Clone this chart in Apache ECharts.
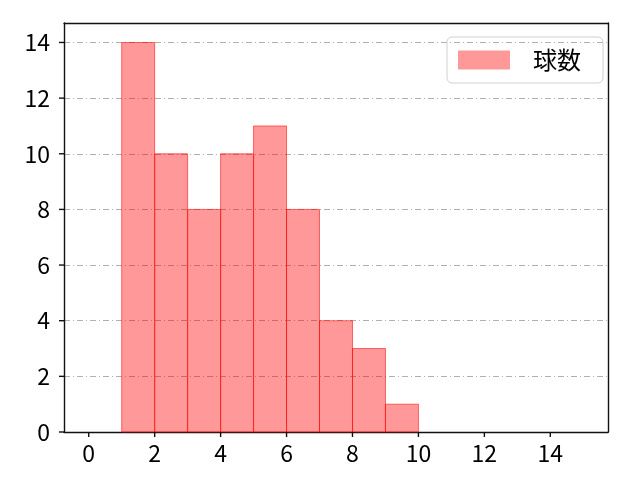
<!DOCTYPE html>
<html>
<head>
<meta charset="utf-8">
<script src="https://cdn.jsdelivr.net/npm/echarts@6/dist/echarts.min.js"></script>
<style>
  html, body { margin: 0; padding: 0; background: #fff; }
  #chart { width: 640px; height: 480px; }
</style>
</head>
<body>
<div id="chart"></div>
<script>
// histogram bins (left edge, right edge) and counts
const binStarts = [1, 2, 3, 4, 5, 6, 7, 8, 9];
const binEnds = [2, 3, 4, 5, 6, 7, 8, 9, 10];
const counts = [14, 10, 8, 10, 11, 8, 4, 3, 1];
const xTicks = [0, 2, 4, 6, 8, 10, 12, 14];
const yTicks = [0, 2, 4, 6, 8, 10, 12, 14];
const seriesName = "球数";

const FONT = "'Noto Sans CJK JP', 'DejaVu Sans', sans-serif";
const X_RANGE = [-0.75, 15.75];
const Y_RANGE = [0, 14.7];
const TICK_LEN = 5;

const chart = echarts.init(document.getElementById("chart"));

const data = binStarts.map((s, i) => [s, binEnds[i], counts[i]]);

const frameLine = { show: true, onZero: false, lineStyle: { color: "#111", width: 1.4 } };
const tickStyle = { stroke: "#111", lineWidth: 1.4 };

// extra axis with only its line, to close the frame on top / right
function frameAxis(pos, range) {
  return {
    type: "value", position: pos, min: range[0], max: range[1],
    axisLine: frameLine, axisTick: { show: false }, axisLabel: { show: false }, splitLine: { show: false }
  };
}

// outward tick marks, placed through the axis scales
function tickSeries(values, horizontal) {
  return {
    type: "custom",
    xAxisIndex: 0,
    yAxisIndex: 0,
    silent: true,
    clip: false,
    z: 5,
    encode: horizontal ? { x: 0 } : { y: 0 },
    renderItem: function (params, api) {
      const v = api.value(0);
      const p = horizontal ? api.coord([v, Y_RANGE[0]]) : api.coord([X_RANGE[0], v]);
      const shape = horizontal
        ? { x1: p[0], y1: p[1], x2: p[0], y2: p[1] + TICK_LEN }
        : { x1: p[0] - TICK_LEN, y1: p[1], x2: p[0], y2: p[1] };
      return { type: "line", shape: shape, style: tickStyle };
    },
    data: values.map((v) => [v])
  };
}

chart.setOption({
  animation: false,
  backgroundColor: "#fff",
  grid: { left: 64, right: 32, top: 23, bottom: 48 },
  legend: {
    right: 37,
    top: 37,
    itemWidth: 52,
    itemHeight: 19,
    padding: [10, 22, 10, 11],
    borderColor: "#d0d0d0",
    borderWidth: 1,
    borderRadius: 5,
    textStyle: { fontFamily: FONT, fontSize: 24, lineHeight: 26, color: "#000", padding: [0, 0, 0, 18] },
    data: [{ name: seriesName, icon: "rect" }]
  },
  xAxis: [{
    type: "value",
    min: X_RANGE[0],
    max: X_RANGE[1],
    axisLine: frameLine,
    axisTick: { show: false },
    axisLabel: { customValues: xTicks, fontFamily: FONT, fontSize: 23, color: "#000", margin: 10 },
    splitLine: { show: false }
  }, frameAxis("top", X_RANGE)],
  yAxis: [{
    type: "value",
    min: Y_RANGE[0],
    max: Y_RANGE[1],
    interval: 2,
    axisLine: frameLine,
    axisTick: { show: false },
    axisLabel: { customValues: yTicks, fontFamily: FONT, fontSize: 23, color: "#000", margin: 14 },
    splitLine: { show: true, lineStyle: { color: "#b0b0b0", width: 1, type: [6, 3, 1, 3] } }
  }, frameAxis("right", Y_RANGE)],
  series: [{
    type: "custom",
    name: seriesName,
    xAxisIndex: 0,
    yAxisIndex: 0,
    renderItem: function (params, api) {
      const p0 = api.coord([api.value(0), api.value(2)]);
      const p1 = api.coord([api.value(1), 0]);
      return {
        type: "rect",
        shape: { x: p0[0], y: p0[1], width: p1[0] - p0[0], height: p1[1] - p0[1] },
        style: { fill: "rgba(255,0,0,0.4)", stroke: "rgba(255,0,0,0.55)", lineWidth: 1 }
      };
    },
    itemStyle: { color: "rgba(255,0,0,0.4)", borderColor: "rgba(255,0,0,0.55)" },
    encode: { x: [0, 1], y: 2 },
    data: data
  }, tickSeries(xTicks, true), tickSeries(yTicks, false)]
});
</script>
</body>
</html>
